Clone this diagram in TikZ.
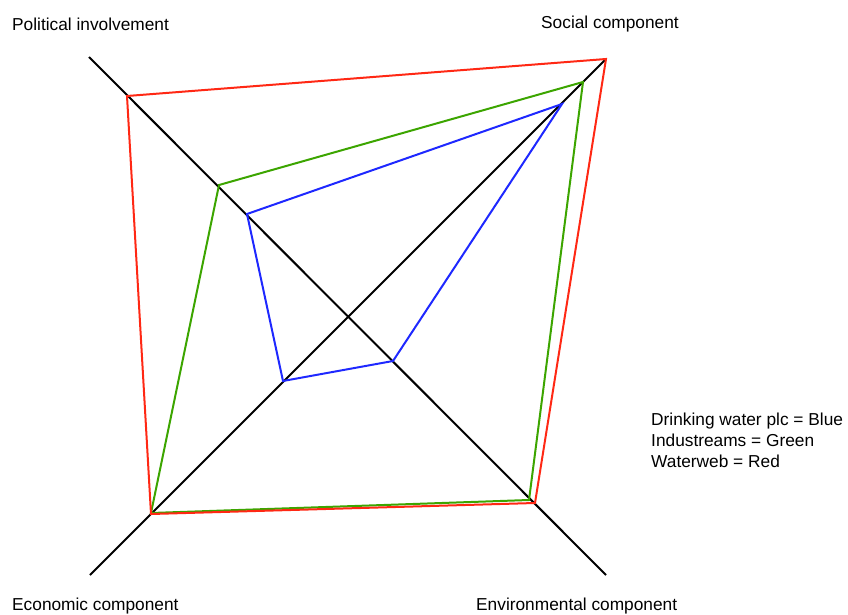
\documentclass[tikz,border=0pt]{standalone}
\usepackage{fontspec}
\setmainfont{Liberation Sans}
\definecolor{plcblue}{RGB}{30,40,255}
\definecolor{indgreen}{RGB}{60,165,0}
\definecolor{webred}{RGB}{255,40,20}

\begin{document}
\begin{tikzpicture}[x=1pt,y=-1pt,
	axis/.style={draw=black,line width=2pt},
	score/.style={line width=2pt,line join=miter},
	lbl/.style={anchor=west,inner sep=0pt,font=\fontsize{17.3}{20}\selectfont},
	legend/.style={anchor=west,inner sep=0pt,align=left,font=\fontsize{17.3}{21}\selectfont}]
	\useasboundingbox (0,0) rectangle (848,615);
	% axis ends
	\coordinate (pol) at (89,57);
	\coordinate (env) at (606,575);
	\coordinate (soc) at (606,59);
	\coordinate (eco) at (90,575);
	\draw [axis] (pol) to (env);
	\draw [axis] (eco) to (soc);
	% Waterweb
	\coordinate (r1) at (127,96);
	\coordinate (r2) at (606,59);
	\coordinate (r3) at (535,503);
	\coordinate (r4) at (151,514);
	% Industreams
	\coordinate (g1) at (219,185);
	\coordinate (g2) at (583,82);
	\coordinate (g3) at (529,500);
	\coordinate (g4) at (151,513);
	% Drinking water plc
	\coordinate (b1) at (247,214);
	\coordinate (b2) at (562,104);
	\coordinate (b3) at (393,361);
	\coordinate (b4) at (283,381);
	\draw [score,draw=plcblue] (b1) -- (b2) -- (b3) -- (b4) -- cycle;
	\draw [score,draw=indgreen] (g1) -- (g2) -- (g3) -- (g4) -- cycle;
	\draw [score,draw=webred] (r1) -- (r2) -- (r3) -- (r4) -- cycle;
	\node [lbl] (polname) at (12,24) {Political involvement};
	\node [lbl] (socname) at (541,24) {Social component};
	\node [lbl] (econame) at (12,606) {Economic component};
	\node [lbl] (envname) at (476,606) {Environmental component};
	\node [legend] (key) at (651,440) {Drinking water plc = Blue\\Industreams = Green\\Waterweb = Red};
\end{tikzpicture}
\end{document}
